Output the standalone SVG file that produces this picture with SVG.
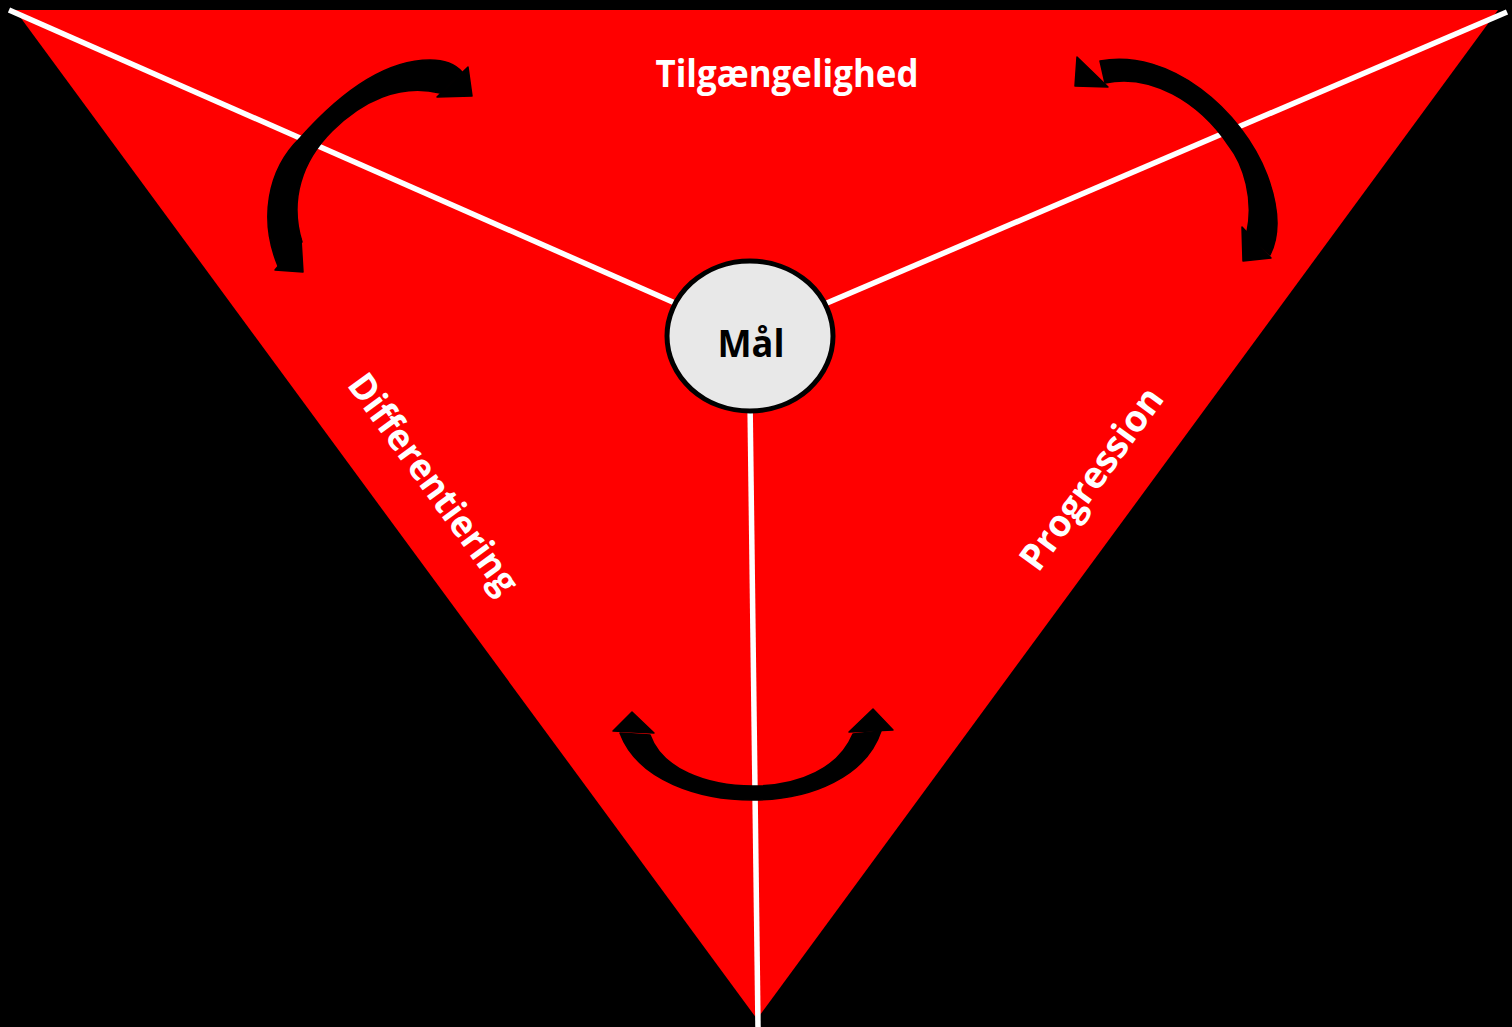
<svg xmlns="http://www.w3.org/2000/svg" width="1512" height="1027" viewBox="0 0 1512 1027">
  <style>
    .lbl { font-family: "Open Sans", "Liberation Sans", sans-serif; font-weight: bold; fill: #ffffff; font-size: 37px; text-anchor: middle; }
    .spoke { stroke: #ffffff; stroke-width: 5.5; fill: none; }
    .arrow { fill: #000000; stroke: #000000; stroke-width: 1.5; stroke-linejoin: round; }
  </style>
  <rect x="0" y="0" width="1512" height="1027" fill="#000000"/>
  <g id="triangle">
    <polygon points="15,10 1498,10 757,1019" fill="#ff0000"/>
  </g>
  <g id="connectors">
    <line class="spoke" x1="9" y1="10" x2="750" y2="336"/>
    <line class="spoke" x1="1507" y1="12" x2="750" y2="336"/>
    <line class="spoke" x1="750" y1="400" x2="758" y2="1027"/>
  </g>
  <g id="arrow-left">
    <path class="arrow" d="M278,266 C259,220 267,170 300,138 C340,93 385,60 430,60 C445,60 455,64 462,72 L440,93 C400,83 362,101 332,131 C302,161 289,200 302,242 Z"/>
    <polygon class="arrow" points="468,67 472,96 437,97"/>
    <polygon class="arrow" points="301,239 303,272 275,270"/>
  </g>
  <g id="arrow-right">
    <path class="arrow" d="M1100,61 C1170,48 1242,110 1267,175 C1280,210 1280,235 1270,255 L1247,232 C1254,200 1244,165 1229,146 C1199,101 1150,73 1105,83 Z"/>
    <polygon class="arrow" points="1077,57 1075,86 1108,87"/>
    <polygon class="arrow" points="1242,227 1243,261 1271,258"/>
  </g>
  <g id="arrow-bottom">
    <path class="arrow" d="M620,733 C638,781 700,800 753,800 C812,800 866,776 881,731 L853,734 C839,768 800,786 753,786 C706,786 662,769 650,735 Z"/>
    <polygon class="arrow" points="632,712 613,731 654,733"/>
    <polygon class="arrow" points="873,709 849,732 893,730"/>
  </g>
  <g id="node-maal">
    <ellipse cx="750" cy="336" rx="83" ry="75" fill="#e8e8e8" stroke="#000000" stroke-width="5"/>
    <text x="751" y="357" font-family="'Open Sans', 'Liberation Sans', sans-serif" font-weight="bold" font-size="37" fill="#000000" text-anchor="middle" textLength="67" lengthAdjust="spacingAndGlyphs">Mål</text>
  </g>
  <g id="label-tilgaengelighed">
    <text class="lbl" x="787" y="87" textLength="263" lengthAdjust="spacingAndGlyphs">Tilgængelighed</text>
  </g>
  <g id="label-differentiering">
    <text class="lbl" transform="translate(433,484) rotate(54)" x="0" y="12" textLength="262" lengthAdjust="spacingAndGlyphs">Differentiering</text>
  </g>
  <g id="label-progression">
    <text class="lbl" transform="translate(1092,479) rotate(-54)" x="0" y="12" textLength="216" lengthAdjust="spacingAndGlyphs">Progression</text>
  </g>
</svg>
